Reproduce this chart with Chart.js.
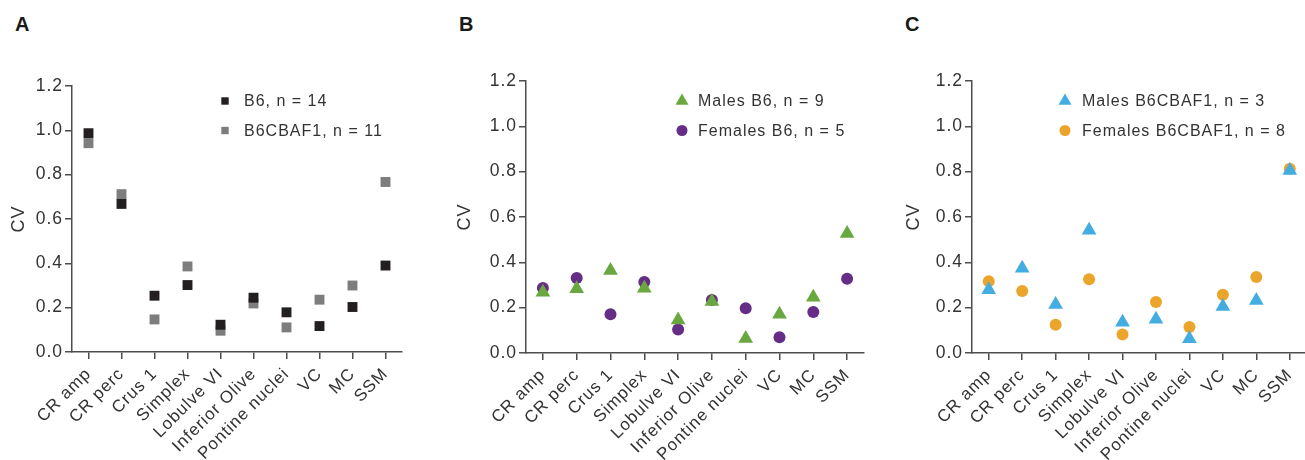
<!DOCTYPE html>
<html>
<head>
<meta charset="utf-8">
<script src="https://cdn.jsdelivr.net/npm/chart.js@4.4.1/dist/chart.umd.min.js"></script>
<style>
  body { margin: 0; width: 1305px; height: 460px; overflow: hidden; background: #fff; position: relative;
         font-family: "Liberation Sans", Arial, sans-serif; }
  .panel { position: absolute; top: 0; height: 460px; }
  .tag { position: absolute; top: 13px; font-weight: bold; font-size: 20px; color: #1a1a1a; }
</style>
</head>
<body>
<div class="tag" style="left:15px">A</div>
<div class="tag" style="left:459px">B</div>
<div class="tag" style="left:905px">C</div>
<div class="panel" style="left:0;width:420px"><canvas id="chartA"></canvas></div>
<div class="panel" style="left:446px;width:436px"><canvas id="chartB"></canvas></div>
<div class="panel" style="left:895px;width:420px"><canvas id="chartC"></canvas></div>
<script>
const regions = ['CR amp', 'CR perc', 'Crus 1', 'Simplex', 'Lobulve VI', 'Inferior Olive', 'Pontine nuclei', 'VC', 'MC', 'SSM'];
const yTicks = [0, 0.2, 0.4, 0.6, 0.8, 1.0, 1.2];

// panel A
const cvB6 = [0.987, 0.668, 0.254, 0.302, 0.123, 0.245, 0.179, 0.117, 0.203, 0.390];
const cvB6CBAF1 = [0.942, 0.712, 0.147, 0.386, 0.096, 0.219, 0.111, 0.236, 0.300, 0.767];
// panel B
const cvMalesB6 = [0.268, 0.283, 0.364, 0.286, 0.146, 0.227, 0.064, 0.171, 0.246, 0.527];
const cvFemalesB6 = [0.287, 0.331, 0.171, 0.313, 0.104, 0.234, 0.197, 0.069, 0.181, 0.328];
// panel C
const cvMalesF1 = [0.279, 0.374, 0.214, 0.541, 0.136, 0.149, 0.063, 0.205, 0.232, 0.805];
const cvFemalesF1 = [0.316, 0.274, 0.125, 0.325, 0.082, 0.225, 0.115, 0.257, 0.335, 0.813];

const textColor = '#333333';
const axisColor = '#4d4d4d';
const FONT = '"Liberation Sans", Arial, sans-serif';

// wider letter spacing, the figure's text is stretched
const spacing = {
  id: 'spacing',
  beforeUpdate(chart) { chart.ctx.letterSpacing = '1px'; },
  beforeDraw(chart) { chart.ctx.letterSpacing = '1px'; }
};

function marker(ctx, style, x, y, r, color) {
  ctx.fillStyle = color;
  ctx.beginPath();
  if (style === 'rect') {
    ctx.rect(x - r, y - r, 2 * r, 2 * r);
  } else if (style === 'triangle') {
    ctx.moveTo(x, y - r);
    ctx.lineTo(x + r * 0.866, y + r / 2);
    ctx.lineTo(x - r * 0.866, y + r / 2);
    ctx.closePath();
  } else {
    ctx.arc(x, y, r, 0, Math.PI * 2);
  }
  ctx.fill();
}

const insideLegend = {
  id: 'insideLegend',
  afterDraw(chart, args, opts) {
    const ctx = chart.ctx;
    ctx.save();
    ctx.letterSpacing = '1px';
    ctx.font = '16px ' + FONT;
    ctx.textBaseline = 'middle';
    opts.items.forEach((it, i) => {
      const y = opts.y + i * 29.5;
      marker(ctx, it.style, opts.x, y, it.r, it.color);
      ctx.fillStyle = textColor;
      ctx.fillText(it.text, opts.textX, y + 1);
    });
    ctx.restore();
  }
};

function makePanel(id, sets, legend, box) {
  const datasets = sets.map(s => ({
    label: s.label,
    data: s.data,
    showLine: false,
    pointStyle: s.style,
    pointRadius: s.r,
    pointBackgroundColor: s.color,
    pointBorderColor: s.color,
    pointBorderWidth: 0,
    backgroundColor: s.color,
    borderColor: s.color
  }));
  new Chart(document.getElementById(id), {
    type: 'line',
    data: { labels: regions, datasets: datasets },
    plugins: [spacing, insideLegend],
    options: {
      responsive: true,
      maintainAspectRatio: false,
      animation: false,
      events: [],
      layout: { padding: { top: box.top, left: 0, right: box.width - box.right, bottom: 0 } },
      plugins: {
        legend: { display: false },
        tooltip: { enabled: false },
        insideLegend: legend
      },
      scales: {
        x: {
          type: 'category',
          offset: true,
          afterFit(scale) { scale.height = 460 - box.bottom; },
          grid: { drawOnChartArea: false, drawTicks: true, tickLength: 7, color: axisColor, lineWidth: 1.5, offset: false },
          border: { color: axisColor, width: 1.5 },
          ticks: {
            autoSkip: false, minRotation: 45, maxRotation: 45, padding: 5,
            color: textColor, font: { family: FONT, size: 17 }
          }
        },
        y: {
          min: 0, max: 1.2,
          afterFit(scale) { scale.width = box.yWidth; },
          afterBuildTicks(scale) { scale.ticks = yTicks.map(v => ({ value: v })); },
          grid: { drawOnChartArea: false, drawTicks: true, tickLength: 7, color: axisColor, lineWidth: 1.5 },
          border: { color: axisColor, width: 1.5 },
          ticks: {
            padding: 2, color: textColor, font: { family: FONT, size: 17.5 },
            callback: v => v.toFixed(1)
          },
          title: {
            display: true, text: 'CV', color: textColor,
            font: { family: FONT, size: 18 }, padding: { top: 8, bottom: 0 }
          }
        }
      }
    }
  });
}

makePanel('chartA', [
  { label: 'B6, n = 14', data: cvB6, style: 'rect', r: 7, color: '#231f20' },
  { label: 'B6CBAF1, n = 11', data: cvB6CBAF1, style: 'rect', r: 7, color: '#7d7d7d' }
], {
  x: 225, textX: 244, y: 101,
  items: [
    { text: 'B6, n = 14', style: 'rect', r: 3.7, color: '#231f20' },
    { text: 'B6CBAF1, n = 11', style: 'rect', r: 3.7, color: '#7d7d7d' }
  ]
}, { top: 86, bottom: 352, right: 402, width: 420, yWidth: 72 });

makePanel('chartB', [
  { label: 'Males B6, n = 9', data: cvMalesB6, style: 'triangle', r: 8.5, color: '#69a83e' },
  { label: 'Females B6, n = 5', data: cvFemalesB6, style: 'circle', r: 6, color: '#662d87' }
], {
  x: 236, textX: 252, y: 101,
  items: [
    { text: 'Males B6, n = 9', style: 'triangle', r: 7.5, color: '#69a83e' },
    { text: 'Females B6, n = 5', style: 'circle', r: 5.5, color: '#662d87' }
  ]
}, { top: 81, bottom: 353, right: 418, width: 436, yWidth: 80 });

makePanel('chartC', [
  { label: 'Males B6CBAF1, n = 3', data: cvMalesF1, style: 'triangle', r: 8.5, color: '#43ade2' },
  { label: 'Females B6CBAF1, n = 8', data: cvFemalesF1, style: 'circle', r: 6, color: '#eba52b' }
], {
  x: 170, textX: 187, y: 101,
  items: [
    { text: 'Males B6CBAF1, n = 3', style: 'triangle', r: 7.5, color: '#43ade2' },
    { text: 'Females B6CBAF1, n = 8', style: 'circle', r: 5.5, color: '#eba52b' }
  ]
}, { top: 81, bottom: 353, right: 415, width: 420, yWidth: 77 });
</script>
</body>
</html>
